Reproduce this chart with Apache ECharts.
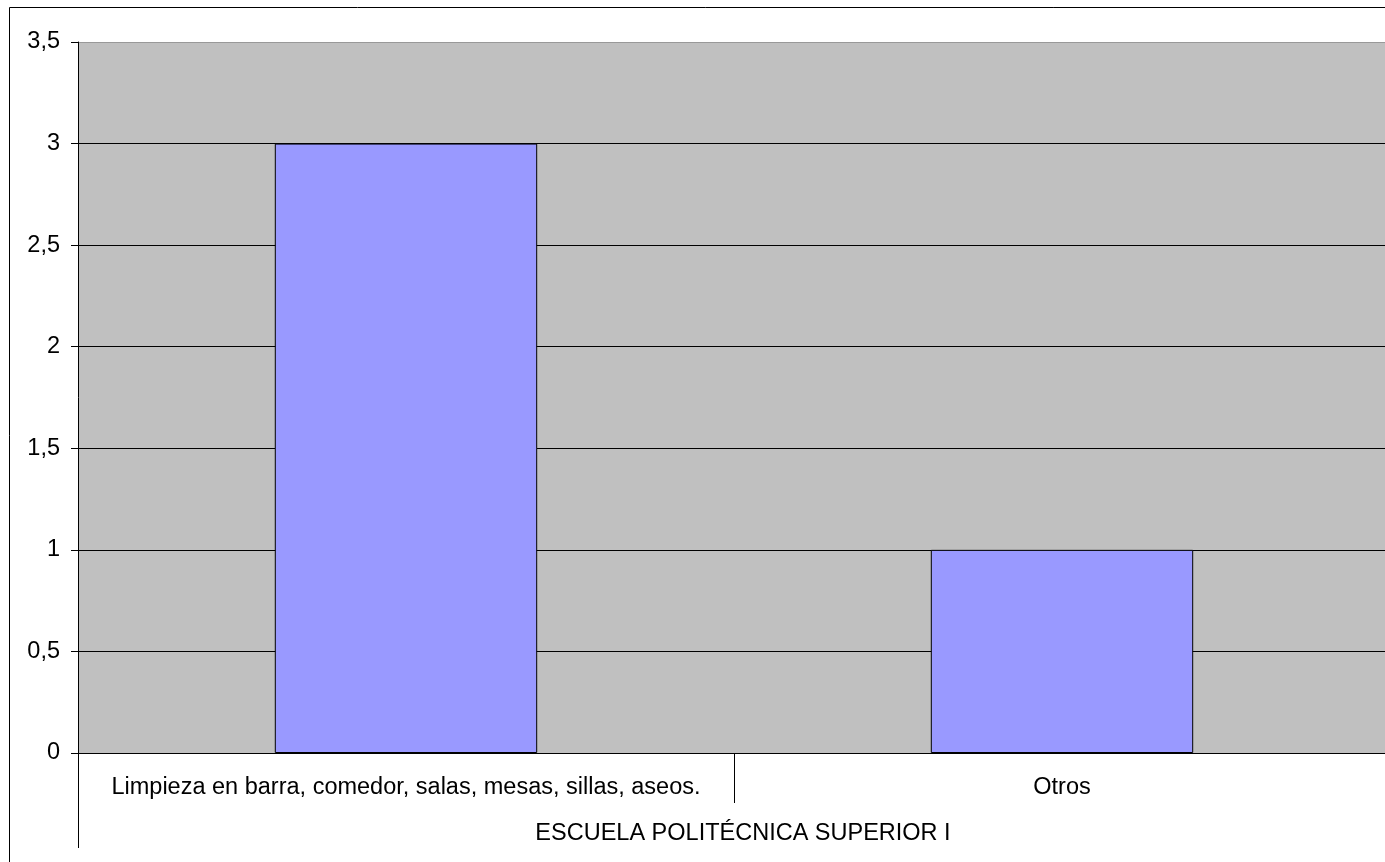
<!DOCTYPE html>
<html>
<head>
<meta charset="utf-8">
<script src="https://cdn.jsdelivr.net/npm/echarts@6/dist/echarts.min.js"></script>
<style>
html,body{margin:0;padding:0;background:#fff;overflow:hidden;width:1385px;height:862px;}
#chart{width:1400px;height:862px;}
</style>
</head>
<body>
<div id="chart"></div>
<script>
const categories = ['Limpieza en barra, comedor, salas, mesas, sillas, aseos.', 'Otros'];
const groupLabels = ['ESCUELA POLITÉCNICA SUPERIOR I'];
const values = [3, 1];
const yMin = 0, yMax = 3.5, yStep = 0.5;

const FONT = 'Liberation Sans';
const FS = 23.5;
const chart = echarts.init(document.getElementById('chart'), null, {renderer: 'canvas'});
chart.setOption({
  animation: false,
  backgroundColor: '#fff',
  textStyle: {fontFamily: FONT},
  graphic: [{
    type: 'rect', silent: true, z: -10,
    shape: {x: 9.5, y: 7.5, width: 2000, height: 2000},
    style: {fill: 'none', stroke: '#000', lineWidth: 1}
  }],
  grid: {left: 78, top: 42, width: 1312, height: 711, show: true, backgroundColor: '#c0c0c0', borderWidth: 0},
  xAxis: [{
    type: 'category', data: categories, position: 'bottom',
    axisLine: {show: true, lineStyle: {color: '#000', width: 1}},
    axisTick: {show: true, interval: 0, length: 50, lineStyle: {color: '#000'}},
    axisLabel: {interval: 0, margin: 23, color: '#000', fontFamily: FONT, fontSize: FS},
    splitLine: {show: false}
  }, {
    type: 'category', data: groupLabels, position: 'bottom',
    axisLine: {show: false},
    axisTick: {show: true, interval: 0, length: 95, lineStyle: {color: '#000'}},
    axisLabel: {interval: 0, margin: 69, color: '#000', fontFamily: FONT, fontSize: FS, padding: [0, 0, 0, 18]},
    splitLine: {show: false}
  }],
  yAxis: {
    type: 'value', min: yMin, max: yMax, interval: yStep,
    axisLine: {show: true, lineStyle: {color: '#000'}},
    axisTick: {show: true, length: 7, lineStyle: {color: '#000'}},
    axisLabel: {margin: 18, color: '#000', fontFamily: FONT, fontSize: FS,
      formatter: v => String(v).replace('.', ',')},
    splitLine: {show: true, lineStyle: {color: ['#000','#000','#000','#000','#000','#000','#000','#999'], width: 1}}
  },
  series: [{
    type: 'bar', xAxisIndex: 0, data: values, barWidth: '40%',
    itemStyle: {color: '#9999ff', borderColor: '#000', borderWidth: 1}
  }]
});
</script>
</body>
</html>
